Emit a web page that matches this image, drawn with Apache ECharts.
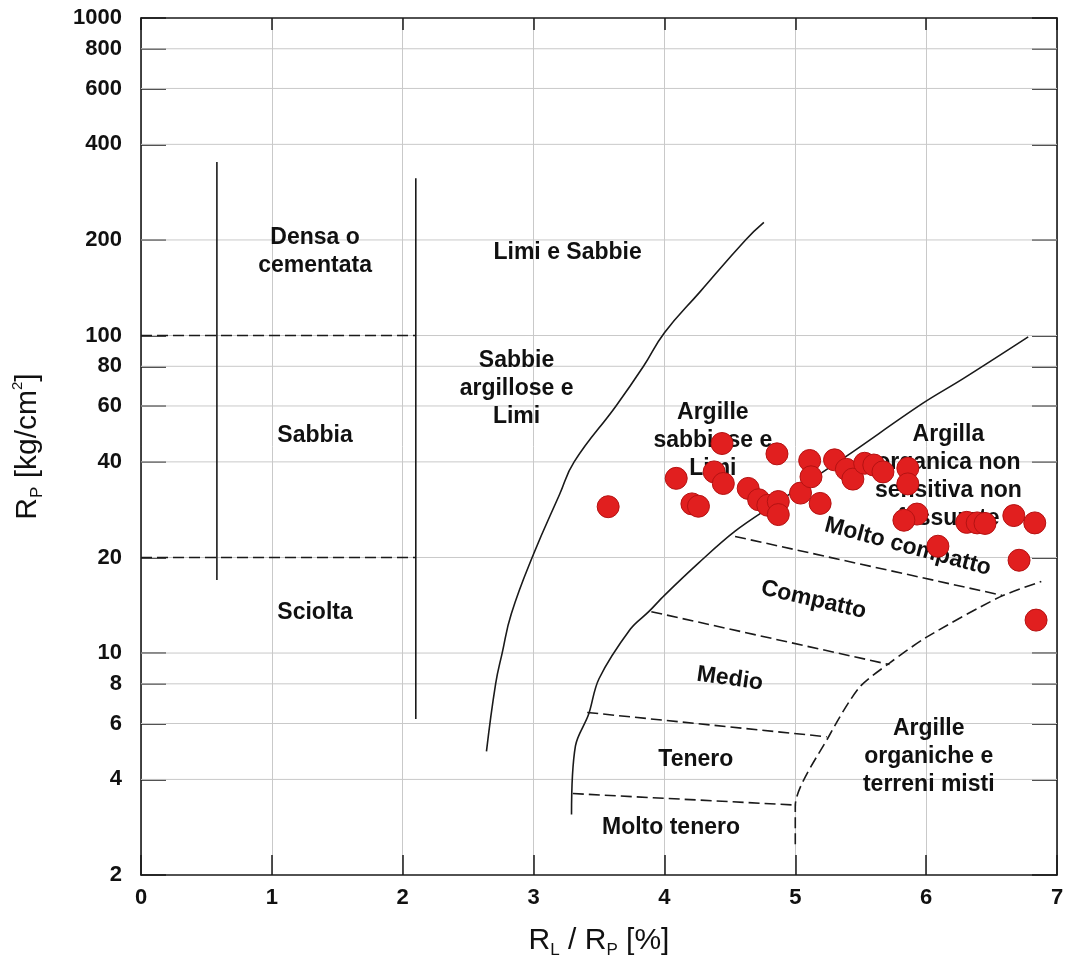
<!DOCTYPE html>
<html>
<head>
<meta charset="utf-8">
<script src="https://cdn.jsdelivr.net/npm/echarts@6/dist/echarts.min.js"></script>
<style>html,body{margin:0;padding:0;background:#fff}#c{width:1068px;height:965px}</style>
</head>
<body>
<div id="c"></div>
<script>
// ---- axis ticks ----
const xTicks = [0, 1, 2, 3, 4, 5, 6, 7];
const yTicks = [2, 4, 6, 8, 10, 20, 40, 60, 80, 100, 200, 400, 600, 800, 1000];

// ---- measured CPT points: RL/RP [%] and RP [kg/cm2] ----
const pointsX = [3.57, 4.09, 4.21, 4.26, 4.44, 4.38, 4.45, 4.64, 4.72, 4.79, 4.87, 4.87, 4.86,
                 5.04, 5.11, 5.12, 5.19, 5.30, 5.39, 5.44, 5.53, 5.60, 5.67, 5.86, 5.86, 5.93,
                 5.83, 6.09, 6.31, 6.39, 6.45, 6.67, 6.83, 6.71, 6.84];
const pointsY = [28.9, 35.5, 29.5, 29.0, 45.7, 37.2, 34.2, 33.0, 30.4, 29.2, 30.0, 27.3, 42.4,
                 31.9, 40.4, 35.9, 29.6, 40.6, 37.9, 35.3, 39.6, 39.1, 37.2, 38.2, 34.1, 27.4,
                 26.2, 21.7, 25.8, 25.7, 25.6, 27.1, 25.7, 19.6, 12.7];

// ---- chart boundary curves ----
const sandCurveX = [2.64, 2.71, 2.76, 2.83, 3.0, 3.2, 3.31, 3.63, 3.84, 4.0, 4.27, 4.62, 4.76];
const sandCurveY = [4.9, 8, 10, 13.3, 20.5, 31.7, 40, 60, 80, 102, 137, 200, 227];
const clayCurveX = [3.29, 3.32, 3.42, 3.50, 3.74, 3.88, 4.0, 4.26, 4.54, 4.85, 5.38, 5.97, 6.28, 6.78];
const clayCurveY = [3.1, 5.1, 6.4, 8.3, 11.9, 13.5, 15.2, 19.2, 24.2, 29.6, 41.4, 61, 73, 99];
const organicCurveX = [5.0, 5.0, 5.26, 5.49, 5.72, 6.0, 6.56, 6.88];
const organicCurveY = [2.5, 3.3, 5.5, 7.8, 9.3, 11.2, 15.0, 16.8];
const veryStiffX = [4.54, 6.58];   const veryStiffY = [23.3, 15.2];
const stiffX = [3.90, 5.72];       const stiffY = [13.5, 9.2];
const mediumX = [3.41, 5.24];      const mediumY = [6.5, 5.45];
const softX = [3.30, 5.01];        const softY = [3.61, 3.32];
const densLeftX = [0.58, 0.58];    const densLeftY = [17, 352];
const densRightX = [2.10, 2.10];   const densRightY = [6.2, 313];
const line100X = [0, 2.10];        const line100Y = [100, 100];
const line20X = [0, 2.10];         const line20Y = [20, 20];

// ---- zone names ----
const zoneNames = ['Densa o\ncementata', 'Sabbia', 'Sciolta', 'Limi e Sabbie',
  'Sabbie\nargillose e\nLimi', 'Argille\nsabbiose e\nLimi',
  'Argilla\norganica non\nsensitiva non\nfessurate', 'Molto compatto', 'Compatto',
  'Medio', 'Tenero', 'Molto tenero', 'Argille\norganiche e\nterreni misti'];
const zoneX = [1.33, 1.33, 1.33, 3.26, 2.87, 4.37, 6.17, 5.86, 5.14, 4.50, 4.24, 4.05, 6.02];
const zoneY = [184, 48.4, 13.4, 182, 68.2, 46.7, 35.9, 21.6, 14.7, 8.3, 4.63, 2.81, 4.71];
const zoneRotate = [0, 0, 0, 0, 0, 0, 0, -15, -13, -8, 0, 0, 0];

const FONT = '"Liberation Sans", Arial, Helvetica, sans-serif';
const INK = '#1a1a1a';
const GRID = '#c9c9c9';
const pairs = (xs, ys) => xs.map((x, i) => [x, ys[i]]);

function boundary(xs, ys, dashed, smooth) {
  return {
    type: 'line', data: pairs(xs, ys), showSymbol: false, symbol: 'none',
    smooth: smooth || 0, silent: true, z: 3, animation: false,
    lineStyle: { color: INK, width: 1.6, type: dashed ? [11, 5] : 'solid' }
  };
}
function gridLine(v) {
  return {
    type: 'line', data: [[xTicks[0], v], [xTicks[xTicks.length - 1], v]],
    showSymbol: false, symbol: 'none', silent: true, z: 1, animation: false,
    lineStyle: { color: GRID, width: 1, type: 'solid' }
  };
}

const chart = echarts.init(document.getElementById('c'));
chart.setOption({
  animation: false,
  backgroundColor: '#ffffff',
  grid: { left: 141, top: 18, right: 11, bottom: 90 },
  xAxis: [{
    type: 'value', min: 0, max: 7, interval: 1, position: 'bottom',
    axisLine: { show: true, onZero: false, lineStyle: { color: INK, width: 1.6 } },
    axisTick: { show: true, inside: true, length: 20, lineStyle: { color: INK, width: 1.5 } },
    splitLine: { show: true, lineStyle: { color: GRID, width: 1 } },
    axisLabel: { fontFamily: FONT, fontSize: 22, fontWeight: 'bold', color: '#111', margin: 12 },
    name: '{r|R}{s|L}{r| / R}{s|P}{r| [%]}', nameLocation: 'middle', nameGap: 48,
    nameTextStyle: {
      rich: {
        r: { fontFamily: FONT, fontSize: 30, color: '#111', lineHeight: 36 },
        s: { fontFamily: FONT, fontSize: 17, color: '#111', lineHeight: 26, verticalAlign: 'bottom' }
      }
    }
  }, {
    type: 'value', min: 0, max: 7, interval: 1, position: 'top',
    axisLine: { show: true, onZero: false, lineStyle: { color: INK, width: 1.6 } },
    axisTick: { show: true, inside: true, length: 12, lineStyle: { color: INK, width: 1.5 } },
    axisLabel: { show: false }, splitLine: { show: false }
  }],
  yAxis: [{
    type: 'log', logBase: 10, min: 2, max: 1000, position: 'left',
    axisLine: { show: true, onZero: false, lineStyle: { color: INK, width: 1.6 } },
    axisTick: { show: true, inside: true, length: 25, customValues: yTicks, lineStyle: { color: INK, width: 1.5 } },
    splitLine: { show: false },
    minorTick: { show: false },
    axisLabel: { customValues: yTicks, formatter: v => String(v), fontFamily: FONT, fontSize: 22, fontWeight: 'bold', color: '#111', margin: 19 },
    name: '{r|R}{s|P}{r| [kg/cm}{u|2}{r|]}', nameLocation: 'middle', nameGap: 95, nameRotate: 90,
    nameTextStyle: {
      rich: {
        r: { fontFamily: FONT, fontSize: 30, color: '#111', lineHeight: 36 },
        s: { fontFamily: FONT, fontSize: 17, color: '#111', lineHeight: 26, verticalAlign: 'bottom' },
        u: { fontFamily: FONT, fontSize: 15, color: '#111', lineHeight: 20, verticalAlign: 'top' }
      }
    }
  }, {
    type: 'log', logBase: 10, min: 2, max: 1000, position: 'right',
    axisLine: { show: true, onZero: false, lineStyle: { color: INK, width: 1.6 } },
    axisTick: { show: true, inside: true, length: 25, customValues: yTicks, lineStyle: { color: INK, width: 1.5 } },
    axisLabel: { show: false }, splitLine: { show: false }, minorTick: { show: false }
  }],
  series: [
    ...yTicks.filter(v => v > yTicks[0] && v < yTicks[yTicks.length - 1]).map(gridLine),
    boundary(sandCurveX, sandCurveY, false, 0.45),
    boundary(clayCurveX, clayCurveY, false, 0.35),
    boundary(organicCurveX, organicCurveY, true, 0.25),
    boundary(veryStiffX, veryStiffY, true),
    boundary(stiffX, stiffY, true),
    boundary(mediumX, mediumY, true),
    boundary(softX, softY, true),
    boundary(densLeftX, densLeftY, false),
    boundary(densRightX, densRightY, false),
    boundary(line100X, line100Y, true),
    boundary(line20X, line20Y, true),
    {
      type: 'scatter', silent: true, z: 3, symbolSize: 0, animation: false,
      itemStyle: { opacity: 1 },
      data: zoneNames.map((n, i) => ({ name: n, value: [zoneX[i], zoneY[i]], label: { rotate: zoneRotate[i] } })),
      label: {
        show: true, position: 'inside', formatter: '{b}', align: 'center', verticalAlign: 'middle',
        fontFamily: FONT, fontSize: 23, fontWeight: 'bold', lineHeight: 28, color: '#111', opacity: 1
      }
    },
    {
      type: 'scatter', silent: true, z: 5, symbolSize: 22, animation: false,
      data: pairs(pointsX, pointsY),
      itemStyle: { color: '#e11f1f', borderColor: '#b51212', borderWidth: 1, opacity: 1 }
    }
  ]
});
</script>
</body>
</html>
